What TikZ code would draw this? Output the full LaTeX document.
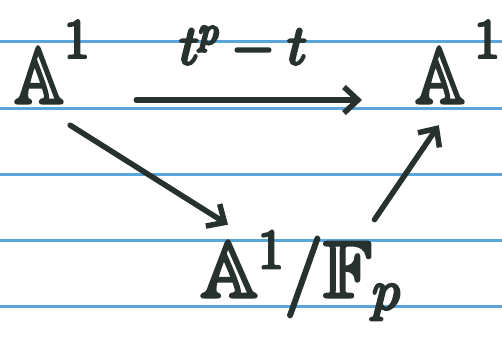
\documentclass[tikz,border=0pt]{standalone}
\usepackage{fix-cm}
\usepackage{amssymb}
\usepackage{graphicx}
\usetikzlibrary{arrows.meta}
\definecolor{ink}{HTML}{27322E}
\definecolor{rulecol}{HTML}{5AA5DC}
\newcommand{\thickink}[1]{\special{pdf:literal direct 2 Tr 3 w 1 j}#1\special{pdf:literal direct 0 Tr}}
\newcommand{\narrowA}{\scalebox{0.86}[1]{$\mathbb{A}$}}
\newcommand{\highone}{\raisebox{12pt}{$\scriptstyle 1$}}
\begin{document}
\begin{tikzpicture}[x=1pt,y=-1pt,
  rule/.style={draw=rulecol,line width=3pt},
  obj/.style={inner sep=0pt,text=ink,font=\fontsize{80}{80}\selectfont},
  lab/.style={inner sep=0pt,text=ink,font=\fontsize{56}{56}\selectfont},
  arr/.style={draw=ink,line width=5.5pt,line cap=round,-{Straight Barb[length=14pt,width=26pt,line width=5.5pt]}}]
\useasboundingbox[fill=white] (0,0) rectangle (502,345);
\foreach \yy in {42,108,174,240,306} \draw[rule] (0,\yy) -- (502,\yy);
\node[obj,anchor=base west] (L) at (14,103) {\thickink{$\narrowA^{\highone}$}};
\node[obj,anchor=base west] (R) at (415,103) {\thickink{$\narrowA^{\,\highone}$}};
\node[obj,anchor=base west] (B) at (200,297) {\thickink{$\mathbb{A}^1/\mathbb{F}_p$}};
\draw[arr] ([xshift=46pt,yshift=3pt]L.base east) -- node[lab,anchor=base,yshift=36pt,xshift=-6pt]{\thickink{$t^p - t$}} ([xshift=-53pt,yshift=3pt]R.base west);
\draw[arr] ([shift={(18,22)}]L.south) -- ([shift={(28,-7)}]B.north west);
\draw[arr] ([shift={(-26,-12)}]B.north east) -- ([shift={(-19,22)}]R.south);
\end{tikzpicture}
\end{document}
